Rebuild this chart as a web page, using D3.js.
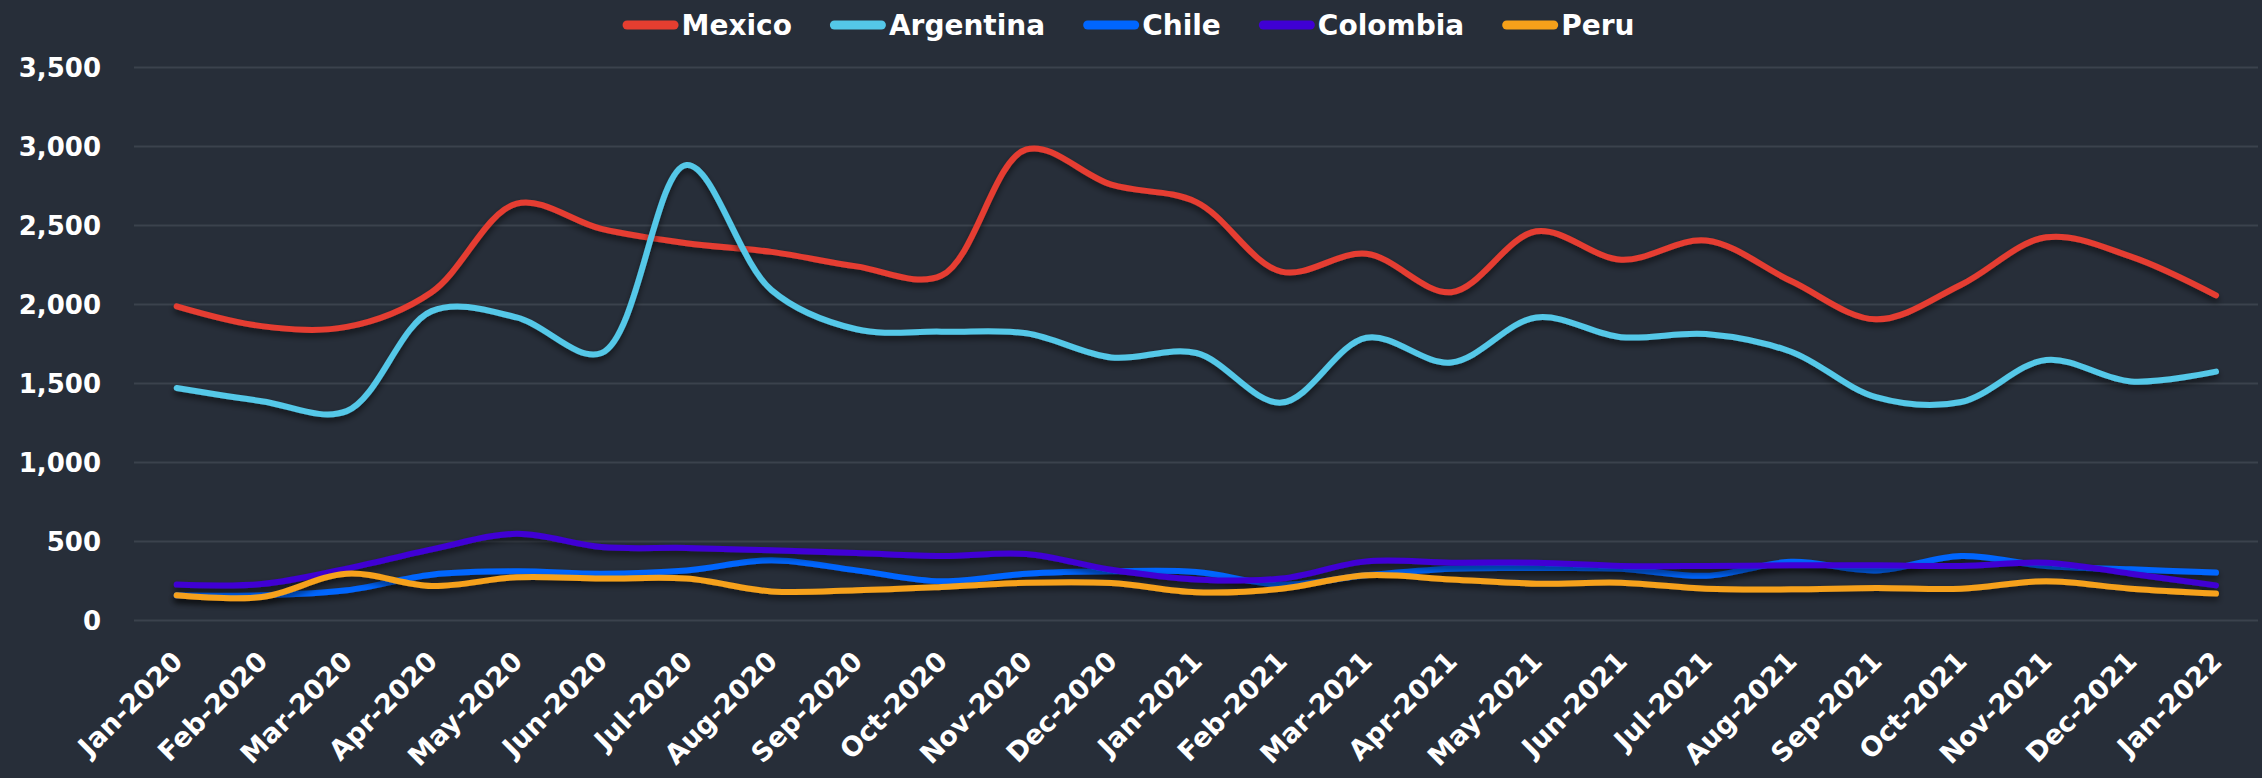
<!DOCTYPE html>
<html>
<head>
<meta charset="utf-8">
<script src="https://cdn.jsdelivr.net/npm/d3@7"></script>
<style>
  html, body { margin: 0; padding: 0; background: #272e39; }
  svg { display: block; }
  text { font-family: "DejaVu Sans", sans-serif; font-weight: bold; fill: #ffffff; }
</style>
</head>
<body>
<svg id="chart" width="2262" height="778"></svg>
<script>
// Monthly series, Jan-2020 .. Jan-2022
const months = [
  "Jan-2020","Feb-2020","Mar-2020","Apr-2020","May-2020","Jun-2020","Jul-2020",
  "Aug-2020","Sep-2020","Oct-2020","Nov-2020","Dec-2020","Jan-2021","Feb-2021",
  "Mar-2021","Apr-2021","May-2021","Jun-2021","Jul-2021","Aug-2021","Sep-2021",
  "Oct-2021","Nov-2021","Dec-2021","Jan-2022"
];

const mexico    = [1985, 1860, 1855, 2075, 2635, 2475, 2385, 2330, 2238, 2180, 2978, 2755, 2645, 2205, 2318, 2075, 2460, 2280, 2402, 2145, 1903, 2122, 2422, 2300, 2055];
const argentina = [1468, 1385, 1322, 1955, 1915, 1690, 2880, 2088, 1840, 1825, 1815, 1662, 1690, 1376, 1786, 1630, 1915, 1790, 1810, 1698, 1410, 1380, 1646, 1510, 1572];
const chile     = [156, 156, 188, 287, 308, 293, 314, 378, 314, 245, 293, 308, 304, 224, 283, 325, 329, 325, 280, 368, 314, 405, 342, 321, 300];
const colombia  = [224, 228, 325, 447, 546, 462, 456, 441, 424, 405, 418, 318, 257, 262, 371, 363, 363, 342, 342, 346, 346, 342, 363, 293, 219];
const peru      = [156, 145, 293, 215, 270, 262, 262, 181, 188, 209, 236, 234, 175, 198, 283, 257, 230, 236, 198, 194, 203, 198, 245, 198, 167];

const seriesNames  = ["Mexico", "Argentina", "Chile", "Colombia", "Peru"];
const seriesValues = [mexico, argentina, chile, colombia, peru];
const seriesColors = ["#e53e30", "#54c8e8", "#0066ff", "#3f00d4", "#f6a11a"];

const yTicks = [0, 500, 1000, 1500, 2000, 2500, 3000, 3500];

const svg = d3.select("#chart");
const width = 2262, height = 778;

const gridLeft = 134, gridRight = 2258;
const x = d3.scalePoint().domain(months).range([176.7, 2216]);
const y = d3.scaleLinear().domain([0, 3500]).range([620, 67]);

// soft drop shadow under each line
const defs = svg.append("defs");
const f = defs.append("filter").attr("id", "lineShadow")
  .attr("x", "-5%").attr("y", "-30%").attr("width", "110%").attr("height", "180%");
f.append("feDropShadow").attr("dx", 0).attr("dy", 4).attr("stdDeviation", 3)
  .attr("flood-color", "#000").attr("flood-opacity", 0.55);

svg.append("rect").attr("width", width).attr("height", height).attr("fill", "#272e39");

// y axis with full-width gridlines
const yAxis = svg.append("g")
  .attr("transform", `translate(${gridLeft},0)`)
  .call(d3.axisLeft(y).tickValues(yTicks).tickFormat(d3.format(","))
    .tickSize(-(gridRight - gridLeft)).tickPadding(33));
yAxis.select(".domain").remove();
yAxis.selectAll(".tick line").attr("stroke", "#3b424d").attr("stroke-width", 2);
yAxis.selectAll(".tick text").style("font-size", "26px").attr("dy", "0.36em");

// x axis, rotated month labels
const xAxis = svg.append("g")
  .attr("transform", `translate(0,${y(0)})`)
  .call(d3.axisBottom(x).tickSize(0));
xAxis.select(".domain").remove();
xAxis.selectAll(".tick text")
  .attr("x", 0).attr("y", 0).attr("dy", 0)
  .attr("transform", "translate(7,43) rotate(-45)")
  .style("text-anchor", "end")
  .style("font-size", "27px");

// series lines
const line = d3.line()
  .x((d, i) => x(months[i]))
  .y(d => y(d))
  .curve(d3.curveCatmullRom.alpha(0.5));

const lines = svg.append("g");
seriesValues.forEach((vals, k) => {
  lines.append("path")
    .datum(vals)
    .attr("d", line)
    .attr("fill", "none")
    .attr("stroke", seriesColors[k])
    .attr("stroke-width", 6)
    .attr("stroke-linecap", "round")
    .attr("stroke-linejoin", "round")
    .attr("filter", "url(#lineShadow)");
});

// legend, centred across the top
const legend = svg.append("g");
const items = seriesNames.map((name, k) => {
  const g = legend.append("g");
  g.append("line")
    .attr("x1", 4.5).attr("x2", 51.5).attr("y1", 0).attr("y2", 0)
    .attr("stroke", seriesColors[k]).attr("stroke-width", 9)
    .attr("stroke-linecap", "round");
  const t = g.append("text")
    .attr("x", 59).attr("y", 0).attr("dy", "0.36em")
    .style("font-size", "28px")
    .text(name);
  return { g, w: 59 + t.node().getComputedTextLength() };
});
const gap = 38;
const total = d3.sum(items, d => d.w) + gap * (items.length - 1);
let cx = 1128.5 - total / 2;
items.forEach(it => {
  it.g.attr("transform", `translate(${cx},25)`);
  cx += it.w + gap;
});
</script>
</body>
</html>
